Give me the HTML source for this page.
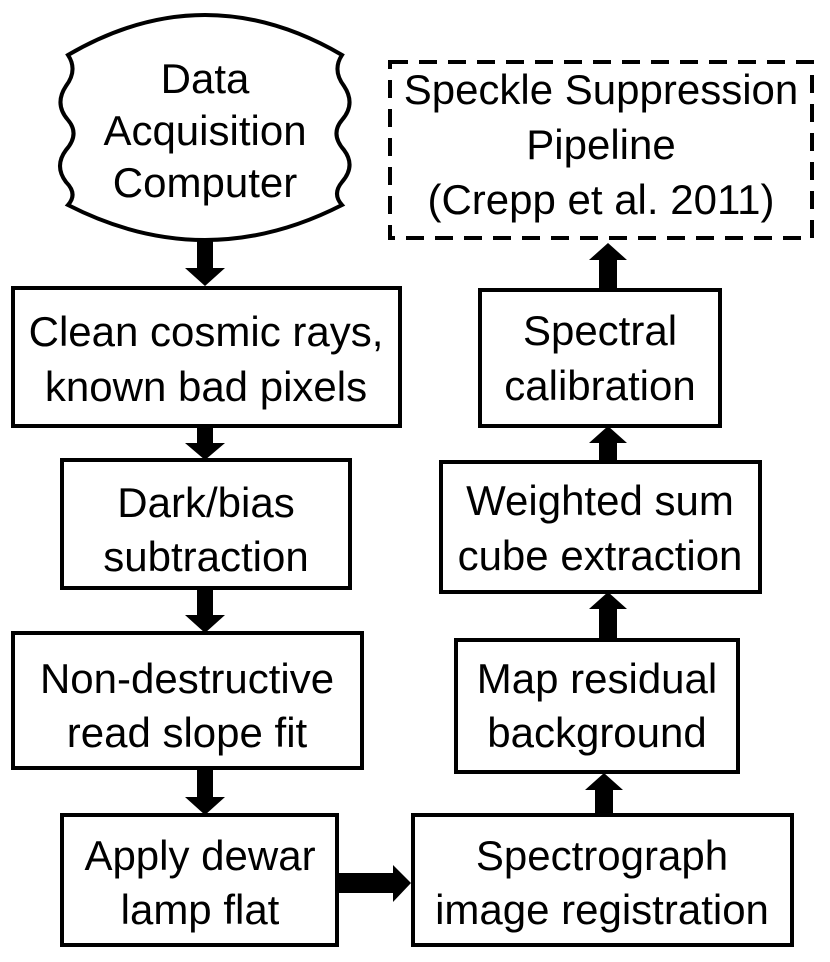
<!DOCTYPE html>
<html><head><meta charset="utf-8"><style>body{margin:0;background:#fff}svg{display:block}text{font-family:"Liberation Sans",Arial,sans-serif;font-size:42px;fill:#000;text-anchor:middle}</style></head><body>
<svg width="830" height="962" viewBox="0 0 830 962" xmlns="http://www.w3.org/2000/svg">
<g fill="none" stroke="#000" stroke-width="4">
<path d="M68,55 Q205,-25 342,55 Q332,70 344,86 Q356,104 342,120 Q330,134 344,150 Q356,166 342,182 Q332,194 342,205 Q205,275 68,205 Q78,194 66,182 Q54,166 66,150 Q80,134 68,120 Q54,104 66,86 Q78,70 68,55 Z"/>
<rect x="13" y="288" width="387" height="138"/>
<rect x="62" y="460" width="288" height="128"/>
<rect x="13" y="633" width="349" height="135"/>
<rect x="62" y="815" width="275" height="130"/>
<rect x="413" y="815" width="379" height="130"/>
<rect x="456" y="640" width="282" height="132"/>
<rect x="441" y="462" width="319" height="130"/>
<rect x="480" y="290" width="240" height="136"/>
<rect x="390" y="62" width="422" height="176" stroke-dasharray="18,11"/>
</g>
<g fill="#000">
<path d="M197,240 H213 V268 H225 L205,286 L185,268 H197 Z"/>
<path d="M197,426 H213 V443 H225 L205,460 L185,443 H197 Z"/>
<path d="M197,588 H213 V615 H225 L205,633 L185,615 H197 Z"/>
<path d="M197,768 H213 V797 H225 L205,815 L185,797 H197 Z"/>
<path d="M337,873 H393 V865 L411,883 L393,902 V893 H337 Z"/>
<path d="M595,815 V790 H585 L604,773 L623,790 H613 V815 Z"/>
<path d="M599,640 V609 H589 L608,592 L627,609 H617 V640 Z"/>
<path d="M599,462 V443 H589 L608,426 L627,443 H617 V462 Z"/>
<path d="M599,290 V260 H589 L608,243 L627,260 H617 V290 Z"/>
</g>
<text x="205" y="93">Data</text>
<text x="205" y="145">Acquisition</text>
<text x="205" y="197">Computer</text>
<text x="206" y="346">Clean cosmic rays,</text>
<text x="206" y="401">known bad pixels</text>
<text x="206" y="517">Dark/bias</text>
<text x="206" y="571">subtraction</text>
<text x="187" y="693">Non-destructive</text>
<text x="187" y="747">read slope fit</text>
<text x="200" y="870">Apply dewar</text>
<text x="200" y="924">lamp flat</text>
<text x="602" y="870">Spectrograph</text>
<text x="602" y="924">image registration</text>
<text x="597" y="693">Map residual</text>
<text x="597" y="747">background</text>
<text x="600" y="515">Weighted sum</text>
<text x="600" y="570">cube extraction</text>
<text x="600" y="345">Spectral</text>
<text x="600" y="400">calibration</text>
<text x="601" y="104">Speckle Suppression</text>
<text x="601" y="159">Pipeline</text>
<text x="601" y="214">(Crepp et al. 2011)</text>
</svg>
</body></html>
